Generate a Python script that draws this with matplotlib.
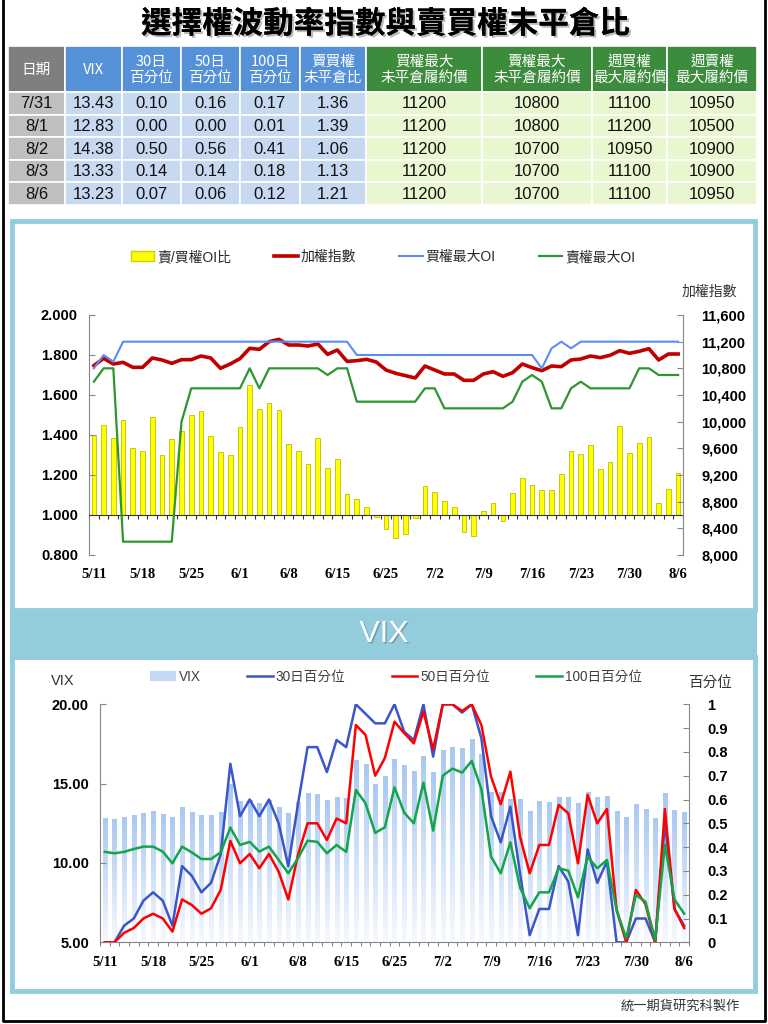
import numpy as np
import matplotlib
matplotlib.use('Agg')
import matplotlib.pyplot as plt
from matplotlib.patches import Rectangle, Patch
from matplotlib.lines import Line2D
from matplotlib.ticker import FuncFormatter
from matplotlib.colors import LinearSegmentedColormap
import matplotlib.patheffects as pe

plt.rcParams['font.family'] = ['Liberation Sans', 'Noto Sans CJK TC', 'DejaVu Sans']

# ---- table data ----
tbl_dates = ['7/31', '8/1', '8/2', '8/3', '8/6']
tbl_vix = [13.43, 12.83, 14.38, 13.33, 13.23]
tbl_p30 = [0.10, 0.00, 0.50, 0.14, 0.07]
tbl_p50 = [0.16, 0.00, 0.56, 0.14, 0.06]
tbl_p100 = [0.17, 0.01, 0.41, 0.18, 0.12]
tbl_pcr = [1.36, 1.39, 1.06, 1.13, 1.21]
tbl_call_max = [11200, 11200, 11200, 11200, 11200]
tbl_put_max = [10800, 10800, 10700, 10700, 10700]
tbl_wk_call = [11100, 11200, 10950, 11100, 11100]
tbl_wk_put = [10950, 10500, 10900, 10900, 10950]
headers = ['日期', 'VIX', '30日\n百分位', '50日\n百分位', '100日\n百分位', '賣買權\n未平倉比',
           '買權最大\n未平倉履約價', '賣權最大\n未平倉履約價', '週買權\n最大履約價', '週賣權\n最大履約價']

# ---- chart data (trading days 5/11 - 8/6) ----
dates = ['5/11', '5/14', '5/15', '5/16', '5/17', '5/18', '5/21', '5/22', '5/23', '5/24',
         '5/25', '5/28', '5/29', '5/30', '5/31', '6/1', '6/4', '6/5', '6/6', '6/7',
         '6/8', '6/11', '6/12', '6/13', '6/14', '6/15', '6/19', '6/20', '6/21', '6/22',
         '6/25', '6/26', '6/27', '6/28', '6/29', '7/2', '7/3', '7/4', '7/5', '7/6',
         '7/9', '7/10', '7/11', '7/12', '7/13', '7/16', '7/17', '7/18', '7/19', '7/20',
         '7/23', '7/24', '7/25', '7/26', '7/27', '7/30', '7/31', '8/1', '8/2', '8/3', '8/6']

pcr = [1.40, 1.45, 1.385, 1.475, 1.335, 1.32, 1.49, 1.30, 1.38, 1.42,
       1.50, 1.52, 1.395, 1.315, 1.30, 1.44, 1.65, 1.53, 1.56, 1.525,
       1.355, 1.32, 1.255, 1.385, 1.235, 1.28, 1.105, 1.08, 1.04, 0.99,
       0.93, 0.885, 0.905, 0.985, 1.145, 1.115, 1.07, 1.04, 0.915, 0.895,
       1.02, 1.06, 0.97, 1.11, 1.185, 1.15, 1.125, 1.125, 1.205, 1.32,
       1.305, 1.35, 1.23, 1.265, 1.445, 1.31, 1.36, 1.39, 1.06, 1.13, 1.21]

taiex = [10840, 10950, 10865, 10890, 10815, 10815, 10955, 10925, 10875, 10930,
         10930, 10985, 10955, 10800, 10865, 10945, 11100, 11085, 11200, 11235,
         11150, 11150, 11135, 11165, 11010, 11075, 10905, 10915, 10935, 10895,
         10775, 10725, 10690, 10655, 10835, 10775, 10715, 10715, 10620, 10620,
         10715, 10750, 10680, 10735, 10865, 10810, 10765, 10835, 10825, 10925,
         10940, 10985, 10960, 10995, 11065, 11025, 11055, 11095, 10925, 11015, 11015]

call_oi = [10800, 11000, 10900, 11200, 11200, 11200, 11200, 11200, 11200, 11200,
           11200, 11200, 11200, 11200, 11200, 11200, 11200, 11200, 11200, 11200,
           11200, 11200, 11200, 11200, 11200, 11200, 11200, 11000, 11000, 11000,
           11000, 11000, 11000, 11000, 11000, 11000, 11000, 11000, 11000, 11000,
           11000, 11000, 11000, 11000, 11000, 11000, 10800, 11100, 11200, 11100,
           11200, 11200, 11200, 11200, 11200, 11200, 11200, 11200, 11200, 11200, 11200]

put_oi = [10600, 10800, 10800, 8200, 8200, 8200, 8200, 8200, 8200, 10000,
          10500, 10500, 10500, 10500, 10500, 10500, 10800, 10500, 10800, 10800,
          10800, 10800, 10800, 10800, 10700, 10800, 10800, 10300, 10300, 10300,
          10300, 10300, 10300, 10300, 10500, 10500, 10200, 10200, 10200, 10200,
          10200, 10200, 10200, 10300, 10600, 10700, 10600, 10200, 10200, 10500,
          10600, 10500, 10500, 10500, 10500, 10500, 10800, 10800, 10700, 10700, 10700]

vix = [12.82, 12.78, 12.88, 13.00, 13.15, 13.26, 13.07, 12.88, 13.51, 13.22,
       13.00, 13.05, 13.22, 14.98, 13.93, 14.00, 13.76, 14.00, 13.50, 13.17,
       13.83, 14.41, 14.35, 13.97, 14.18, 14.08, 16.49, 16.24, 14.98, 15.48,
       16.55, 16.16, 15.82, 16.74, 15.75, 17.12, 17.29, 17.23, 17.80, 16.85,
       14.50, 14.48, 14.04, 14.04, 13.28, 13.91, 13.87, 14.18, 14.16, 13.78,
       14.46, 14.14, 14.25, 13.30, 12.88, 13.70, 13.43, 12.83, 14.38, 13.33, 13.23]

p30 = [0, 0, 0.07, 0.10, 0.175, 0.21, 0.175, 0.07, 0.32, 0.28,
       0.21, 0.25, 0.37, 0.75, 0.53, 0.60, 0.53, 0.60, 0.50, 0.32,
       0.58, 0.82, 0.82, 0.715, 0.85, 0.82, 1.0, 0.96, 0.92, 0.92,
       1.0, 0.885, 0.85, 1.0, 0.78, 1.0, 1.0, 0.965, 1.0, 0.857,
       0.53, 0.42, 0.57, 0.29, 0.03, 0.14, 0.14, 0.32, 0.255, 0.03,
       0.39, 0.25, 0.34, 0.0, 0.0, 0.10, 0.10, 0.00, 0.50, 0.14, 0.07]

p50 = [0, 0, 0.04, 0.06, 0.10, 0.12, 0.10, 0.045, 0.18, 0.157,
       0.12, 0.143, 0.22, 0.426, 0.332, 0.371, 0.311, 0.371, 0.297, 0.18,
       0.367, 0.50, 0.50, 0.43, 0.52, 0.50, 0.913, 0.871, 0.70, 0.774,
       0.927, 0.879, 0.836, 0.969, 0.811, 1.0, 1.0, 0.972, 1.0, 0.913,
       0.696, 0.58, 0.717, 0.444, 0.29, 0.409, 0.409, 0.577, 0.542, 0.332,
       0.619, 0.50, 0.56, 0.136, 0.0, 0.22, 0.16, 0.00, 0.56, 0.14, 0.06]

p100 = [0.38, 0.374, 0.38, 0.392, 0.402, 0.402, 0.381, 0.332, 0.402, 0.378,
        0.35, 0.35, 0.378, 0.482, 0.409, 0.422, 0.381, 0.402, 0.346, 0.29,
        0.353, 0.427, 0.422, 0.374, 0.409, 0.38, 0.64, 0.584, 0.46, 0.483,
        0.651, 0.545, 0.50, 0.671, 0.469, 0.70, 0.73, 0.713, 0.762, 0.643,
        0.36, 0.29, 0.42, 0.23, 0.143, 0.21, 0.21, 0.311, 0.301, 0.189,
        0.36, 0.311, 0.346, 0.136, 0.017, 0.199, 0.17, 0.01, 0.41, 0.18, 0.12]

W, H = 768, 1024
fig = plt.figure(figsize=(W / 100, H / 100), dpi=100)


def fx(x):
    return x / W


def fy(y):
    return 1 - y / H


# background layer in pixel coords
bg = fig.add_axes([0, 0, 1, 1], zorder=0)
bg.set_xlim(0, W)
bg.set_ylim(H, 0)
bg.axis('off')

bg.plot([3, 3, 765, 765], [-5, 1021, 1021, -5], color='k', lw=2)

panel_c = '#93CDDD'
bg.add_patch(Rectangle((12, 221), 743, 389, facecolor='white', edgecolor=panel_c, lw=3.5))
bg.add_patch(Rectangle((12, 657), 743, 334, facecolor='white', edgecolor=panel_c, lw=3.5))
bg.add_patch(Rectangle((10, 610), 747, 47, facecolor=panel_c, edgecolor='none'))
bg.text(384, 634, 'VIX', color='white', fontsize=22, ha='center', va='center',
        path_effects=[pe.withSimplePatchShadow(offset=(1, -1), shadow_rgbFace='#5A7F88', alpha=0.6)])

# title
bg.text(385, 24, '選擇權波動率指數與賣買權未平倉比', fontsize=22, fontweight='bold',
        family=['Noto Sans CJK TC'], ha='center', va='center',
        path_effects=[pe.withSimplePatchShadow(offset=(1.5, -1.5), shadow_rgbFace='#AAAAAA', alpha=0.8),
                      pe.Normal()])

# table
col_edges = [8, 65, 122, 181, 240, 300, 366, 482, 592, 667, 757]
head_top, head_bot = 46, 92
row_h = 22.6
head_cols = ['#7F7F7F'] + ['#5591D8'] * 5 + ['#3D8C3D'] * 4
cell_cols = ['#BFBFBF'] + ['#C6D9F1'] * 5 + ['#E8F7CF'] * 4
columns = [tbl_dates,
           ['%.2f' % v for v in tbl_vix],
           ['%.2f' % v for v in tbl_p30],
           ['%.2f' % v for v in tbl_p50],
           ['%.2f' % v for v in tbl_p100],
           ['%.2f' % v for v in tbl_pcr],
           [str(v) for v in tbl_call_max],
           [str(v) for v in tbl_put_max],
           [str(v) for v in tbl_wk_call],
           [str(v) for v in tbl_wk_put]]
num_font = ['Liberation Sans Narrow', 'Liberation Sans', 'Noto Sans CJK TC']
for c in range(len(headers)):
    x0, x1 = col_edges[c], col_edges[c + 1]
    bg.add_patch(Rectangle((x0, head_top), x1 - x0, head_bot - head_top,
                           facecolor=head_cols[c], edgecolor='white', lw=1.2))
    bg.text((x0 + x1) / 2, (head_top + head_bot) / 2 + 1, headers[c], color='white',
            fontsize=10.5, ha='center', va='center', linespacing=1.15,
            family=['Liberation Sans Narrow', 'Noto Sans CJK TC'])
    for r, val in enumerate(columns[c]):
        y0 = head_bot + r * row_h
        bg.add_patch(Rectangle((x0, y0), x1 - x0, row_h, facecolor=cell_cols[c],
                               edgecolor='white', lw=1.2))
        bg.text((x0 + x1) / 2, y0 + row_h / 2 + 0.5, val, fontsize=12, ha='center',
                va='center', family=num_font, color='#111111')

# ---- top chart ----
x = np.arange(len(dates))
spine_c = '#868686'
ax1 = fig.add_axes([fx(89), fy(555), fx(683) - fx(89), fy(315) - fy(555)], zorder=2)
ax1.patch.set_alpha(0)
ax1.bar(x, np.array(pcr) - 1, bottom=1, width=0.48, color='#FFFF00', edgecolor='#BDBD00', lw=0.6)
ax1.set_xlim(-0.5, len(dates) - 0.5)
ax1.set_ylim(0.8, 2.0)
ax1.set_yticks(np.arange(0.8, 2.01, 0.2))
ax1.yaxis.set_major_formatter(FuncFormatter(lambda v, p: '%.3f' % v))
ax1.spines['top'].set_visible(False)
ax1.spines['right'].set_visible(False)
ax1.spines['left'].set_color(spine_c)
ax1.spines['bottom'].set_position(('data', 1.0))
ax1.spines['bottom'].set_color('#333333')
ax1.set_xticks(np.arange(-0.5, len(dates), 1))
ax1.tick_params(axis='x', length=3, direction='out', color='#333333', labelbottom=False)
ax1.tick_params(axis='y', length=4, direction='in', color=spine_c, pad=8)
for lbl in ax1.get_yticklabels():
    lbl.set_fontweight('bold')
    lbl.set_fontsize(10.5)

sec = ax1.secondary_xaxis(0)
sec.set_xticks(x[::5], labels=dates[::5])
sec.tick_params(length=0, pad=9)
sec.spines['bottom'].set_visible(False)
for lbl in sec.get_xticklabels():
    lbl.set_family('Liberation Serif')
    lbl.set_fontweight('bold')
    lbl.set_fontsize(10.5)

ax2 = ax1.twinx()
ax2.plot(x, taiex, color='#C00000', lw=2.6)
ax2.plot(x, call_oi, color='#5B8DF5', lw=1.5)
ax2.plot(x, put_oi, color='#2E962E', lw=1.6)
ax2.set_ylim(8000, 11600)
ax2.set_yticks(np.arange(8000, 11601, 400))
ax2.yaxis.set_major_formatter(FuncFormatter(lambda v, p: '{:,.0f}'.format(v)))
for s in ['top', 'bottom', 'left']:
    ax2.spines[s].set_visible(False)
ax2.spines['right'].set_color(spine_c)
ax2.tick_params(axis='y', length=4, direction='in', color=spine_c, pad=13)
for lbl in ax2.get_yticklabels():
    lbl.set_fontweight('bold')
    lbl.set_fontsize(10.5)
bg.text(709, 292, '加權指數', fontsize=10, ha='center', va='center', color='#333333')

h_top = [Patch(facecolor='#FFFF00', edgecolor='#D0D000'),
         Line2D([], [], color='#C00000', lw=2.6),
         Line2D([], [], color='#5B8DF5', lw=1.5),
         Line2D([], [], color='#2E962E', lw=1.6)]
fig.legend(h_top, ['賣/買權OI比', '加權指數', '買權最大OI', '賣權最大OI'], loc='center',
           bbox_to_anchor=(fx(383), fy(257)), ncol=4, frameon=False, fontsize=10,
           handlelength=1.7, handletextpad=0.2, columnspacing=3.1, labelcolor='#262626')

# ---- bottom chart ----
ax3 = fig.add_axes([fx(100), fy(942.3), fx(689) - fx(100), fy(704.3) - fy(942.3)], zorder=2)
ax3.patch.set_alpha(0)
bars = ax3.bar(x, vix, width=0.42, color='none', lw=0)
cmap = LinearSegmentedColormap.from_list('vixg', ['#F6F9FE', '#A9C8F1'])
grad = np.linspace(0, 1, 64).reshape(-1, 1)
for b, v in zip(bars, vix):
    im = ax3.imshow(grad, cmap=cmap, aspect='auto', origin='lower',
                    extent=(b.get_x(), b.get_x() + b.get_width(), 5, v), zorder=1)
    im.set_clip_path(b)
ax3.set_xlim(-0.41, len(dates) - 0.59)
ax3.set_ylim(5, 20)
ax3.set_yticks([5, 10, 15, 20])
ax3.yaxis.set_major_formatter(FuncFormatter(lambda v, p: '%.2f' % v))
ax3.spines['top'].set_visible(False)
ax3.spines['right'].set_visible(False)
ax3.spines['left'].set_color(spine_c)
ax3.spines['bottom'].set_color(spine_c)
ax3.set_xticks(np.arange(-0.5, len(dates), 1))
ax3.tick_params(axis='x', which='major', length=3, direction='out', color=spine_c, labelbottom=False)
ax3.set_xticks(x[::5], labels=dates[::5], minor=True)
ax3.tick_params(axis='x', which='minor', length=0, pad=10)
for lbl in ax3.get_xticklabels(minor=True):
    lbl.set_family('Liberation Serif')
    lbl.set_fontweight('bold')
    lbl.set_fontsize(10.5)
ax3.tick_params(axis='y', length=4, direction='in', color=spine_c, pad=8)
for lbl in ax3.get_yticklabels():
    lbl.set_fontweight('bold')
    lbl.set_fontsize(10.5)

ax4 = ax3.twinx()
ax4.plot(x, p30, color='#3A56C8', lw=1.8)
ax4.plot(x, p50, color='#FF0000', lw=1.8)
ax4.plot(x, p100, color='#12A54A', lw=1.8)
ax4.set_ylim(0, 1)
ax4.set_yticks(np.arange(0, 1.01, 0.1))
ax4.yaxis.set_major_formatter(FuncFormatter(lambda v, p: '%g' % round(v, 1)))
for s in ['top', 'bottom', 'left']:
    ax4.spines[s].set_visible(False)
ax4.spines['right'].set_color(spine_c)
ax4.tick_params(axis='y', length=4, direction='in', color=spine_c, pad=13)
for lbl in ax4.get_yticklabels():
    lbl.set_fontweight('bold')
    lbl.set_fontsize(10.5)
bg.text(63, 681, 'VIX', fontsize=10.5, ha='center', va='center', color='#333333')
bg.text(710, 683, '百分位', fontsize=10.5, ha='center', va='center', color='#333333')

h_bot = [Patch(facecolor='#C2D8F5', edgecolor='none'),
         Line2D([], [], color='#3A56C8', lw=1.8),
         Line2D([], [], color='#FF0000', lw=1.8),
         Line2D([], [], color='#12A54A', lw=1.8)]
fig.legend(h_bot, ['VIX', '30日百分位', '50日百分位', '100日百分位'], loc='center',
           bbox_to_anchor=(fx(396), fy(677)), ncol=4, frameon=False, fontsize=9.8,
           handlelength=1.9, handletextpad=0.2, columnspacing=3.4, labelcolor='#404040')

bg.text(680, 1006, '統一期貨研究科製作', fontsize=9.5, ha='center', va='center', color='#333333')

fig.savefig('out.png', dpi=100)
